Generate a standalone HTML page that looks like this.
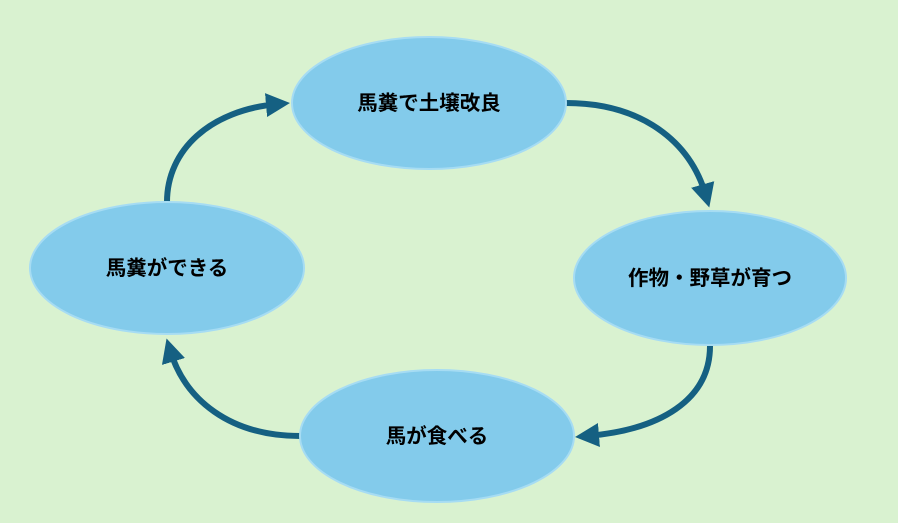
<!DOCTYPE html>
<html><head><meta charset="utf-8"><style>
html,body{margin:0;padding:0;background:#d9f2d0;}
svg{display:block;}
text{font-family:"Liberation Sans","Noto Sans CJK JP",sans-serif;font-weight:bold;font-size:20.5px;fill:#000;}
</style></head><body>
<svg width="898" height="523" viewBox="0 0 898 523">
<rect width="898" height="523" fill="#d9f2d0"/>
<defs>
<marker id="a" markerWidth="4" markerHeight="4" refX="2" refY="2" orient="auto" markerUnits="strokeWidth">
<path d="M0,0 L4,2 L0,4 z" fill="#156082"/>
</marker>
</defs>
<g fill="none" stroke="#156082" stroke-width="6">
<path d="M566,103 C640,103 690,140 706,196" marker-end="url(#a)"/>
<path d="M710,346 C710,400 660,430 587,436" marker-end="url(#a)"/>
<path d="M300,436 C230,436 185,400 170,350" marker-end="url(#a)"/>
<path d="M167,202 C167,150 210,110 278,104" marker-end="url(#a)"/>
</g>
<g fill="#83cbeb" stroke="#a6dcf3" stroke-width="2">
<ellipse cx="429" cy="103" rx="137" ry="66"/>
<ellipse cx="710" cy="278" rx="136" ry="67"/>
<ellipse cx="437" cy="436" rx="137" ry="66"/>
<ellipse cx="167" cy="268" rx="137" ry="66"/>
</g>
<g text-anchor="middle">
<text x="429" y="110">馬糞で土壌改良</text>
<text x="710" y="285">作物・野草が育つ</text>
<text x="437" y="443">馬が食べる</text>
<text x="167" y="275">馬糞ができる</text>
</g>
</svg>
</body></html>
